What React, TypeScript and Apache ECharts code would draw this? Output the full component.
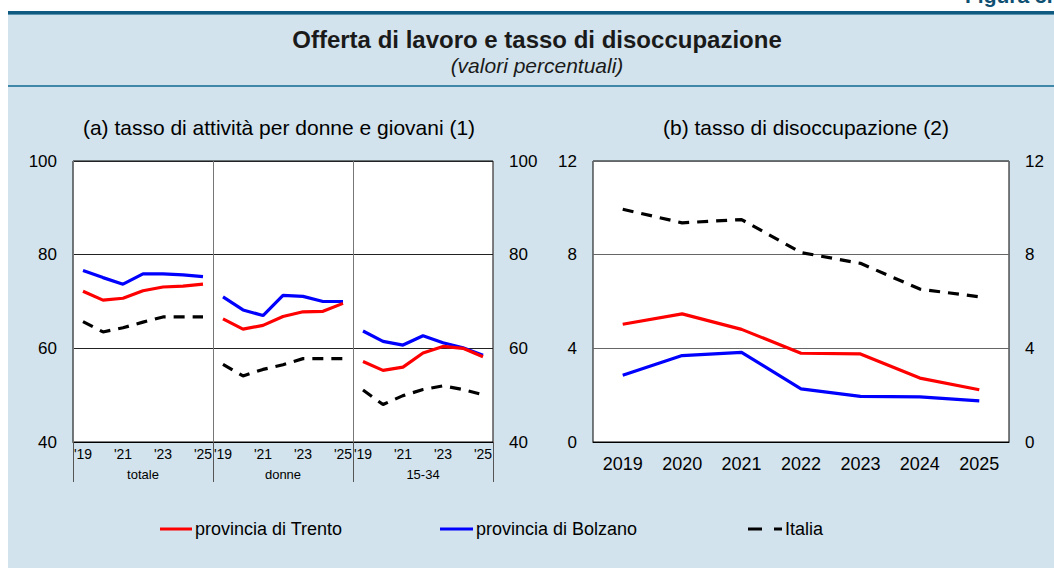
import React, { useEffect, useRef } from "react";
import * as echarts from "echarts";

const years = ["2019", "2020", "2021", "2022", "2023", "2024", "2025"];
const shortYears = ["'19", "", "'21", "", "'23", "", "'25"];
const groups = ["totale", "donne", "15-34"];

// (a) tasso di attività
const trentoTotale = [72.2, 70.3, 70.7, 72.3, 73.1, 73.3, 73.7];
const bolzanoTotale = [76.6, 75.1, 73.7, 75.9, 75.9, 75.7, 75.3];
const italiaTotale = [65.7, 63.5, 64.4, 65.6, 66.7, 66.7, 66.7];
const trentoDonne = [66.3, 64.1, 64.9, 66.8, 67.8, 67.9, 69.6];
const bolzanoDonne = [71.0, 68.2, 67.0, 71.3, 71.1, 70.0, 70.0];
const italiaDonne = [56.6, 54.1, 55.5, 56.5, 57.8, 57.8, 57.8];
const trentoGiovani = [57.2, 55.3, 56.0, 59.0, 60.4, 60.0, 58.2];
const bolzanoGiovani = [63.7, 61.5, 60.7, 62.7, 61.2, 60.1, 58.5];
const italiaGiovani = [51.1, 48.0, 49.9, 51.2, 52.0, 51.2, 50.1];

// (b) tasso di disoccupazione
const trentoDisocc = [5.03, 5.47, 4.81, 3.79, 3.76, 2.73, 2.23];
const bolzanoDisocc = [2.85, 3.69, 3.83, 2.27, 1.95, 1.93, 1.76];
const italiaDisocc = [9.94, 9.36, 9.5, 8.09, 7.63, 6.53, 6.2];

const leftTicks = [40, 60, 80, 100];
const rightTicks = [0, 4, 8, 12];

const TRENTO = "provincia di Trento";
const BOLZANO = "provincia di Bolzano";
const ITALIA = "Italia";
const RED = "#ff0000";
const BLUE = "#0000ff";
const BLACK = "#000000";
const FONT = "Liberation Sans, Arial, sans-serif";
const BG = "#d2e3ed";

export default function App() {
  const ref = useRef<HTMLDivElement>(null);
  useEffect(() => {
    if (!ref.current) return;
    const chart = echarts.init(ref.current, null, { renderer: "svg" });

    const cats: string[] = [];
    groups.forEach((g) => years.forEach((y) => cats.push(g + "-" + y)));
    const catLabels: string[] = [];
    groups.forEach(() => shortYears.forEach((s) => catLabels.push(s)));

    const placed = (vals: number[], gi: number) =>
      cats.map((_, i) => {
        const g = Math.floor(i / years.length);
        return g === gi ? vals[i % years.length] : "-";
      });

    const lineStyle = (color: string, dashed: boolean) => ({
      color,
      width: 3.2,
      type: dashed ? [11, 8] : "solid",
    });

    const mk = (name: string, color: string, dashed: boolean, data: any[], xi: number, yi: number) => ({
      type: "line",
      name,
      data,
      xAxisIndex: xi,
      yAxisIndex: yi,
      showSymbol: false,
      symbol: "none",
      connectNulls: false,
      itemStyle: { color },
      lineStyle: lineStyle(color, dashed),
      z: dashed ? 3 : name === TRENTO ? 5 : 4,
    });

    const leftSets: [string, string, boolean, number[][]][] = [
      [ITALIA, BLACK, true, [italiaTotale, italiaDonne, italiaGiovani]],
      [BOLZANO, BLUE, false, [bolzanoTotale, bolzanoDonne, bolzanoGiovani]],
      [TRENTO, RED, false, [trentoTotale, trentoDonne, trentoGiovani]],
    ];
    const series: any[] = [];
    leftSets.forEach(([name, color, dashed, arrs]) => {
      arrs.forEach((arr, gi) => series.push(mk(name, color, dashed, placed(arr, gi), 0, 0)));
    });
    series.push(mk(ITALIA, BLACK, true, italiaDisocc, 2, 2));
    series.push(mk(BOLZANO, BLUE, false, bolzanoDisocc, 2, 2));
    series.push(mk(TRENTO, RED, false, trentoDisocc, 2, 2));

    const yLabel = { color: "#000", fontSize: 17, fontFamily: FONT, margin: 16 };

    const legendBase = (name: string, left: number, icon: string, w: number) => ({
      data: [{ name, icon }],
      left,
      top: 520,
      itemWidth: w,
      itemHeight: 18,
      itemGap: 0,
      padding: 0,
      textStyle: { color: "#000", fontSize: 18, fontFamily: FONT, padding: [0, 0, 0, -2] },
      selectedMode: false,
    });

    chart.setOption({
      animation: false,
      backgroundColor: "#ffffff",
      textStyle: { fontFamily: FONT },
      graphic: [
        { type: "rect", shape: { x: 8, y: 14, width: 1046, height: 554 }, style: { fill: BG }, z: -10, silent: true },
        { type: "rect", shape: { x: 8, y: 11, width: 1046, height: 3 }, style: { fill: "#0f5a80" }, z: -9, silent: true },
        { type: "rect", shape: { x: 8, y: 14, width: 1046, height: 1 }, style: { fill: "#5a93b0" }, z: -9, silent: true },
        { type: "rect", shape: { x: 8, y: 85, width: 1046, height: 2 }, style: { fill: "#3f88aa" }, z: -9, silent: true },
        {
          type: "text",
          x: 965,
          y: 6,
          style: {
            text: "Figura 5.",
            fill: "#0e4f72",
            font: "bold 21px " + FONT,
            align: "left",
            verticalAlign: "bottom",
          },
          silent: true,
        },
        {
          type: "text",
          x: 537,
          y: 39,
          style: {
            text: "Offerta di lavoro e tasso di disoccupazione",
            fill: "#1a1a1a",
            font: "bold 24px " + FONT,
            align: "center",
            verticalAlign: "middle",
          },
          silent: true,
        },
        {
          type: "text",
          x: 537,
          y: 65,
          style: {
            text: "(valori percentuali)",
            fill: "#1a1a1a",
            font: "italic 21px " + FONT,
            align: "center",
            verticalAlign: "middle",
          },
          silent: true,
        },
        {
          type: "text",
          x: 279,
          y: 127,
          style: {
            text: "(a) tasso di attività per donne e giovani (1)",
            fill: "#000",
            font: "21px " + FONT,
            align: "center",
            verticalAlign: "middle",
          },
          silent: true,
        },
        {
          type: "text",
          x: 806,
          y: 127,
          style: {
            text: "(b) tasso di disoccupazione (2)",
            fill: "#000",
            font: "21px " + FONT,
            align: "center",
            verticalAlign: "middle",
          },
          silent: true,
        },
      ],
      legend: [
        legendBase(TRENTO, 160, "path://M0,0H32V3H0Z", 32),
        legendBase(BOLZANO, 440, "path://M0,0H33V3H0Z", 33),
        legendBase(ITALIA, 748, "path://M0,0H14V3H0Z M26,0H34V3H26Z", 34),
      ],
      grid: [
        {
          left: 73,
          top: 161,
          width: 420,
          height: 281,
          show: true,
          backgroundColor: "#ffffff",
          borderColor: "#000",
          borderWidth: 1,
        },
        {
          left: 593,
          top: 161,
          width: 416,
          height: 281,
          show: true,
          backgroundColor: "#ffffff",
          borderColor: "#000",
          borderWidth: 1,
        },
      ],
      xAxis: [
        {
          type: "category",
          gridIndex: 0,
          data: cats,
          boundaryGap: true,
          axisLine: { show: true, lineStyle: { color: "#000" } },
          axisTick: { show: false },
          splitLine: { show: false },
          axisLabel: {
            interval: 0,
            color: "#000",
            fontSize: 14,
            fontFamily: FONT,
            margin: 5,
            formatter: (_: string, i: number) => catLabels[i],
          },
        },
        {
          type: "category",
          gridIndex: 0,
          data: groups,
          position: "bottom",
          boundaryGap: true,
          axisLine: { show: false },
          axisTick: { show: true, length: 40, lineStyle: { color: "#555", width: 1 } },
          splitLine: { show: true, lineStyle: { color: "#777", width: 1 } },
          axisLabel: { interval: 0, color: "#000", fontSize: 13, fontFamily: FONT, margin: 26 },
        },
        {
          type: "category",
          gridIndex: 1,
          data: years,
          boundaryGap: true,
          axisLine: { show: true, lineStyle: { color: "#000" } },
          axisTick: { show: false },
          splitLine: { show: false },
          axisLabel: { interval: 0, color: "#000", fontSize: 18, fontFamily: FONT, margin: 13 },
        },
      ],
      yAxis: [
        {
          type: "value",
          gridIndex: 0,
          min: leftTicks[0],
          max: leftTicks[leftTicks.length - 1],
          interval: 20,
          position: "left",
          axisLine: { show: false },
          axisTick: { show: false },
          splitLine: { show: true, lineStyle: { color: "#222", width: 1 } },
          axisLabel: yLabel,
        },
        {
          type: "value",
          gridIndex: 0,
          min: leftTicks[0],
          max: leftTicks[leftTicks.length - 1],
          interval: 20,
          position: "right",
          axisLine: { show: false },
          axisTick: { show: false },
          splitLine: { show: false },
          axisLabel: yLabel,
        },
        {
          type: "value",
          gridIndex: 1,
          min: rightTicks[0],
          max: rightTicks[rightTicks.length - 1],
          interval: 4,
          position: "left",
          axisLine: { show: false },
          axisTick: { show: false },
          splitLine: { show: true, lineStyle: { color: "#666", width: 1 } },
          axisLabel: yLabel,
        },
        {
          type: "value",
          gridIndex: 1,
          min: rightTicks[0],
          max: rightTicks[rightTicks.length - 1],
          interval: 4,
          position: "right",
          axisLine: { show: false },
          axisTick: { show: false },
          splitLine: { show: false },
          axisLabel: yLabel,
        },
      ],
      series,
    });
    return () => chart.dispose();
  }, []);
  return (
    <div
      ref={ref}
      style={{ position: "fixed", left: 0, top: 0, width: 1054, height: 568 }}
    />
  );
}
